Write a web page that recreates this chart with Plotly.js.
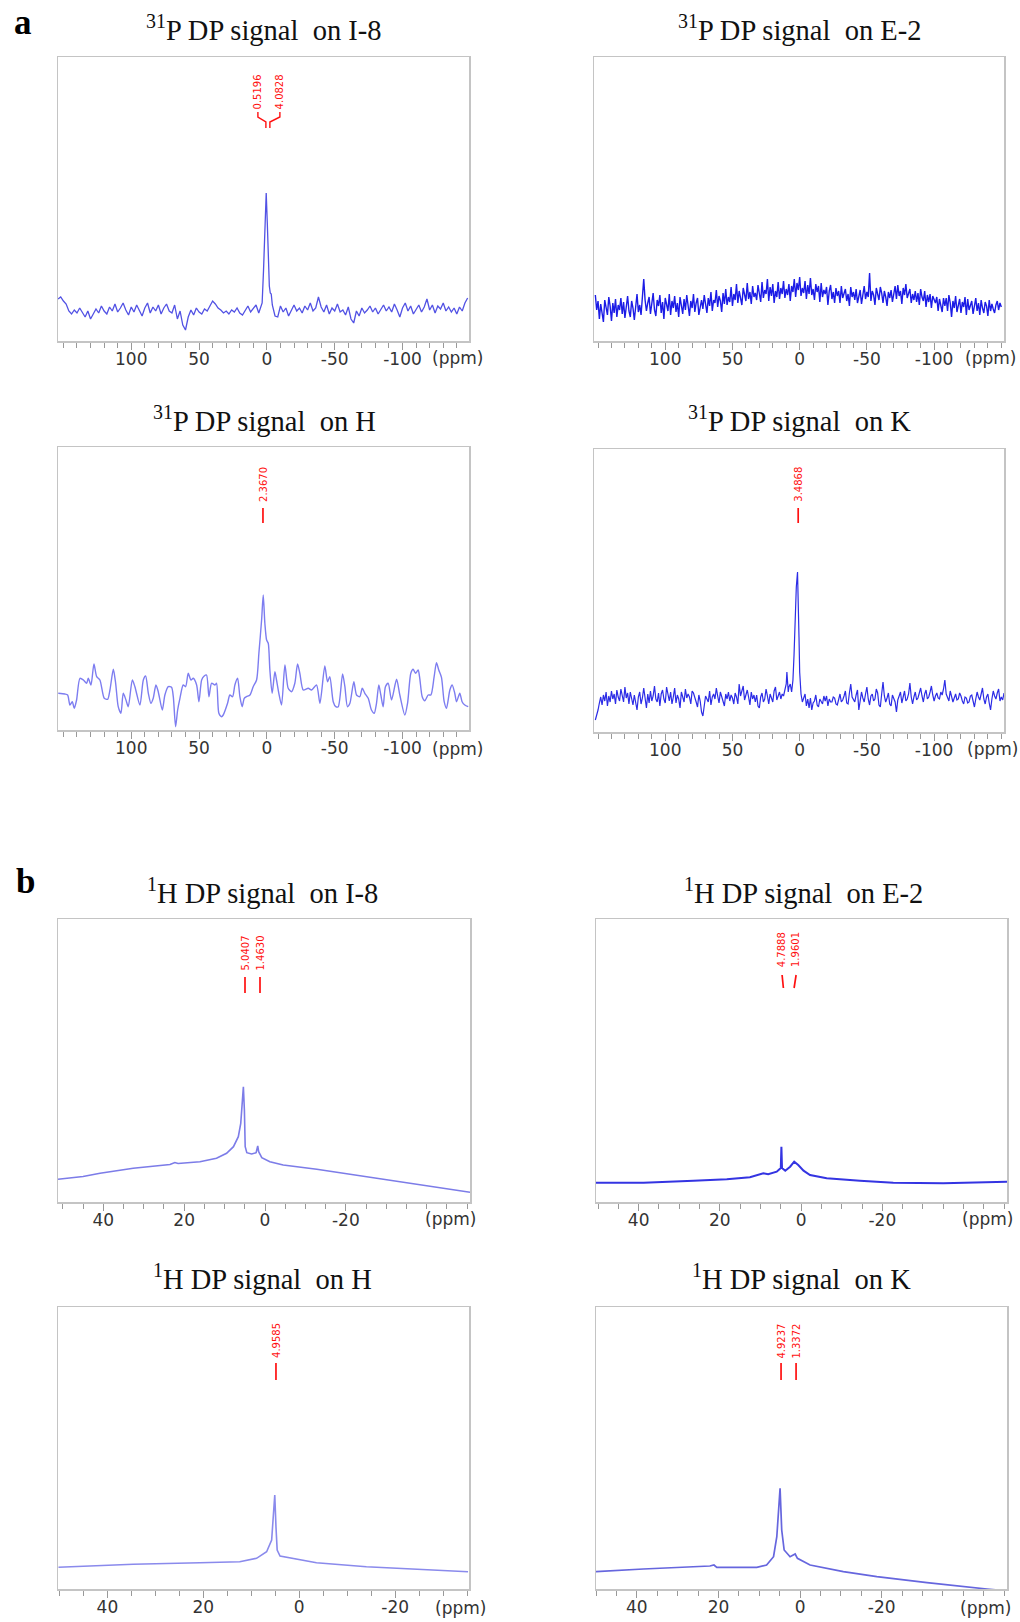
<!DOCTYPE html>
<html><head><meta charset="utf-8">
<script src="https://cdn.plot.ly/plotly-3.0.1.min.js"></script>
<style>html,body{margin:0;padding:0;background:#fff}#chart{width:1020px;height:1622px}</style>
</head><body><div id="chart"></div>
<script>
// ---------------- DATA (ppm, intensity) ----------------
const panelTitles = [
  '<sup>31</sup>P DP signal\u00a0 on I-8', '<sup>31</sup>P DP signal\u00a0 on E-2',
  '<sup>31</sup>P DP signal\u00a0 on H',   '<sup>31</sup>P DP signal\u00a0 on K',
  '<sup>1</sup>H DP signal\u00a0 on I-8',  '<sup>1</sup>H DP signal\u00a0 on E-2',
  '<sup>1</sup>H DP signal\u00a0 on H',    '<sup>1</sup>H DP signal\u00a0 on K'];
const sectionLabels = ['a', 'b'];
const p31TickVals = [100, 50, 0, -50, -100];
const p31TickText = ['100', '50', '0', '-50', '-100'];
const h1TickVals = [40, 20, 0, -20];
const h1TickText = ['40', '20', '0', '-20'];
const unitLabel = '(ppm)';

// 31P I-8
const pI8_x = [154,152,150,148,146,144,142,140,138,136,134,132,130,128,126,124,122,120,118,116,114,112,110,108,106,104,102,100,98,96,94,92,90,88,86,84,82,80,78,76,74,72,70,68,66,64,62,60,58,56,54,52,50,48,46,44,42,40,38,36,34,32,30,28,26,24,22,20,18,16,14,12,10,8,6,
  5,4,3.5,2.5,1.5,0.5,-0.3,-1,-1.8,-2.5,-3.2,-4,-5,-6,
  -8,-10,-12,-14,-16,-18,-20,-22,-24,-26,-28,-30,-32,-34,-36,-38,-40,-42,-44,-46,-48,-50,-52,-54,-56,-58,-60,-62,-64,-66,-68,-70,-72,-74,-76,-78,-80,-82,-84,-86,-88,-90,-92,-94,-96,-98,-100,-102,-104,-106,-108,-110,-112,-114,-116,-118,-120,-122,-124,-126,-128,-130,-132,-134,-136,-138,-140,-142,-144,-146,-148];
const pI8_y = [42,44,40,37,30,27,31,28,33,29,24,30,22,27,32,28,35,30,27,34,30,37,29,33,38,31,26,34,29,36,31,25,33,38,28,34,30,36,27,33,37,30,28,36,22,30,16,11,24,31,26,33,29,27,32,30,35,40,37,33,31,28,30,27,31,29,33,28,26,31,35,29,33,36,28,
  33,36,38,70,110,148,118,80,55,48,47,36,30,25,
  24,35,29,33,25,31,36,30,33,28,35,31,38,30,33,44,34,29,36,27,33,30,37,29,31,26,34,22,18,30,25,33,28,31,35,29,33,27,32,36,30,34,29,37,31,24,33,38,30,35,27,32,36,29,34,42,31,36,28,35,32,38,30,34,29,33,27,34,30,38,43];

// 31P E-2 (1 ppm sampling)
const pE2_x = [152,151,150,149,148,147,146,145,144,143,142,141,140,139,138,137,136,135,134,133,
  132,131,130,129,128,127,126,125,124,123,122,121,120,119,118,117,116,115,114,113,
  112,111,110,109,108,107,106,105,104,103,102,101,100,99,98,97,96,95,94,93,
  92,91,90,89,88,87,86,85,84,83,82,81,80,79,78,77,76,75,74,73,
  72,71,70,69,68,67,66,65,64,63,62,61,60,59,58,57,56,55,54,53,
  52,51,50,49,48,47,46,45,44,43,42,41,40,39,38,37,36,35,34,33,
  32,31,30,29,28,27,26,25,24,23,22,21,20,19,18,17,16,15,14,13,
  12,11,10,9,8,7,6,5,4,3,2,1,0,-1,-2,-3,-4,-5,-6,-7,
  -8,-9,-10,-11,-12,-13,-14,-15,-16,-17,-18,-19,-20,-21,-22,-23,-24,-25,-26,-27,
  -28,-29,-30,-31,-32,-33,-34,-35,-36,-37,-38,-39,-40,-41,-42,-43,-44,-45,-46,-47,
  -48,-49,-50,-51,-52,-53,-54,-55,-56,-57,-58,-59,-60,-61,-62,-63,-64,-65,-66,-67,
  -68,-69,-70,-71,-72,-73,-74,-75,-76,-77,-78,-79,-80,-81,-82,-83,-84,-85,-86,-87,
  -88,-89,-90,-91,-92,-93,-94,-95,-96,-97,-98,-99,-100,-101,-102,-103,-104,-105,-106,-107,
  -108,-109,-110,-111,-112,-113,-114,-115,-116,-117,-118,-119,-120,-121,-122,-123,-124,-125,-126,-127,
  -128,-129,-130,-131,-132,-133,-134,-135,-136,-137,-138,-139,-140,-141,-142,-143,-144,-145,-146,-147,
  -148,-149,-150];
const pE2_y = [46,31,40,22,37,29,19,41,33,26,44,35,20,38,28,42,24,36,31,43,
  27,39,23,35,45,30,24,40,33,21,38,47,29,36,26,50,62,41,30,38,
  44,27,36,48,31,25,41,35,46,28,39,22,43,34,30,47,26,40,33,45,
  29,38,24,44,35,27,42,31,46,36,25,40,33,47,29,38,43,26,36,41,
  32,46,37,28,43,35,49,30,41,38,51,34,45,40,29,48,37,52,36,44,
  39,54,35,47,41,57,38,50,43,36,53,45,40,58,42,49,37,55,44,48,
  41,56,46,39,59,43,51,47,62,40,54,45,57,38,50,44,59,42,53,47,
  60,43,52,46,57,40,55,49,62,44,58,51,64,45,53,48,60,42,56,47,
  63,46,52,41,57,49,55,39,58,44,51,47,54,36,50,56,42,49,38,53,
  45,50,38,55,43,48,52,40,47,35,54,44,49,41,52,38,46,51,37,48,
  55,42,49,44,68,40,50,46,36,53,45,41,54,48,38,50,44,35,49,43,
  51,39,47,55,42,56,45,50,37,53,46,57,43,49,52,38,47,41,50,39,
  48,36,52,44,40,50,34,46,39,47,33,45,41,38,44,30,42,36,29,43,
  35,43,30,46,38,24,40,33,45,29,37,42,28,39,34,44,26,42,31,37,
  40,27,35,43,30,38,26,41,33,28,39,35,25,41,30,37,32,28,36,40,
  31,38,34];

// 31P H
const pH_x = [153.8,148.9,146.9,145.2,143.5,142.0,140.3,137.8,135.3,132.9,131.7,129.7,127.5,125.5,123.1,119.9,117.4,115.7,113.2,111.5,109.6,107.6,105.9,103.9,102.2,99.2,97.3,93.6,91.1,89.4,87.4,85.5,83.8,81.8,80.1,77.1,75.2,72.7,70.3,69.0,67.3,65.8,64.1,61.7,59.9,58.0,56.0,54.3,51.8,50.1,48.1,46.2,44.5,42.7,40.8,38.3,37.1,35.4,33.4,32.2,29.0,27.3,25.3,23.6,21.6,19.9,18.2,16.7,15.0,12.5,10.1,7.6,5.9,3.9,2.7,1.5,0.2,-1.0,-2.2,-3.9,-5.9,-7.1,-8.8,-10.8,-13.3,-15.7,-18.2,-20.6,-22.6,-24.3,-26.8,-30.5,-32.9,-36.6,-39.1,-42.7,-44.7,-46.4,-48.9,-50.8,-52.6,-55.8,-57.5,-59.4,-61.2,-64.1,-66.1,-68.5,-70.3,-72.2,-74.7,-77.1,-79.1,-80.8,-82.5,-84.0,-85.7,-87.4,-89.4,-91.9,-95.6,-98.0,-101.7,-103.7,-106.1,-107.8,-109.6,-111.5,-112.7,-114.5,-116.4,-118.9,-120.9,-123.3,-125.0,-126.7,-128.7,-130.7,-132.4,-134.9,-136.6,-138.5,-139.8,-142.2,-143.9,-145.9,-148.4];
const pH_y = [36.7,36,35,25,28.3,21.7,30,51.7,50,46.7,51.7,45,66,53.3,50,31.7,30.7,40,60.7,46.7,23.3,16.7,36.7,30,23.3,50,43.3,25,50,54,36.7,26.7,31.7,45,38.3,20,35,43.3,42.7,33.3,3.3,20,31.7,45,43.3,56.7,50,51.7,45,28.3,50,54,55,33.3,46.7,45,46.7,16.7,13.3,15,26.7,35,33.3,45,51.7,33.3,23.3,31.7,33.3,35,43.3,50,76.7,110,135,106.7,90,86.7,60,36.7,58.3,50,36.7,25,65,41.7,38.3,46.7,66,56.7,40,41.7,40,45,26.7,64,48.3,53.3,28.3,23.3,23.3,56,43.3,23.3,26.7,48.3,35,33.3,41.7,36.7,31.7,20,16.7,26.7,45,35,23.3,43.3,46.7,30,50.7,35,15,26.7,56.7,60.7,56.7,60,51.7,33.3,29.3,35,35,53.3,67.3,60,52.7,28.3,21.7,40,45,36.7,28.3,36.7,28.3,25,23.3];

// 31P K (1 ppm sampling outside the peak)
const pK_x = [152,151,150,149,148,147,146,145,144,143,142,141,140,139,138,137,136,135,134,133,
  132,131,130,129,128,127,126,125,124,123,122,121,120,119,118,117,116,115,114,113,
  112,111,110,109,108,107,106,105,104,103,102,101,100,99,98,97,96,95,94,93,
  92,91,90,89,88,87,86,85,84,83,82,81,80,79,78,77,76,75,74,73,
  72,71,70,69,68,67,66,65,64,63,62,61,60,59,58,57,56,55,54,53,
  52,51,50,49,48,47,46,45,44,43,42,41,40,39,38,37,36,35,34,33,
  32,31,30,29,28,27,26,25,24,23,22,21,20,19,18,17,16,15,14,13,
  12,
  11,10,9.5,9,8.5,8,7,6,5,4.2,3.5,2.5,1.6,1,0.5,0,-0.5,-1,-2,-3,
  -4,-5,-6,-7,-8,-9,-10,-11,-12,-13,-14,-15,-16,-17,-18,-19,-20,-21,-22,-23,
  -24,-25,-26,-27,-28,-29,-30,-31,-32,-33,-34,-35,-36,-37,-38,-39,-40,-41,-42,-43,
  -44,-45,-46,-47,-48,-49,-50,-51,-52,-53,-54,-55,-56,-57,-58,-59,-60,-61,-62,-63,
  -64,-65,-66,-67,-68,-69,-70,-71,-72,-73,-74,-75,-76,-77,-78,-79,-80,-81,-82,-83,
  -84,-85,-86,-87,-88,-89,-90,-91,-92,-93,-94,-95,-96,-97,-98,-99,-100,-101,-102,-103,
  -104,-105,-106,-107,-108,-109,-110,-111,-112,-113,-114,-115,-116,-117,-118,-119,-120,-121,-122,-123,
  -124,-125,-126,-127,-128,-129,-130,-131,-132,-133,-134,-135,-136,-137,-138,-139,-140,-141,-142,-143,
  -144,-145,-146,-147,-148,-149,-150,-151,-152];
const pK_y = [12,16,22,29,35,27,37,31,40,26,36,30,41,33,38,28,42,35,31,43,
  36,30,45,34,39,28,40,33,27,37,30,22,35,40,28,34,44,31,24,38,
  29,41,31,36,46,33,30,39,26,38,42,33,29,45,36,31,40,28,35,44,
  29,37,33,24,40,36,30,43,34,38,35,28,41,39,33,30,25,37,31,20,
  16,27,36,33,30,41,27,35,38,33,44,36,29,40,35,31,26,38,33,40,
  31,37,34,28,39,35,28,48,36,41,46,32,38,42,35,27,40,33,37,30,
  37,26,24,35,39,30,33,43,36,28,38,34,30,41,45,32,36,40,33,38,
  36,
  42,48,60,44,40,45,48,40,52,77,110,145,160,135,95,60,42,38,30,35,
  38,26,33,24,34,22,29,31,37,27,25,33,30,28,36,31,36,26,33,30,
  30,35,34,28,27,33,38,30,32,36,41,29,28,39,48,35,33,30,37,42,
  22,31,40,34,30,38,45,33,27,36,38,31,33,43,39,27,25,38,50,36,
  30,34,39,28,26,37,34,30,20,32,36,40,29,35,41,31,33,38,49,35,
  28,35,40,32,34,39,44,36,30,38,42,33,35,40,46,37,31,36,39,34,
  33,40,37,43,52,38,35,31,41,36,30,34,38,32,33,39,36,31,28,35,
  34,29,30,36,37,31,25,33,40,35,32,38,44,33,28,35,38,29,22,33,
  41,36,33,39,43,31,35,32,39];

// 1H I-8
const hI8_x = [51.2,45,40.8,32.6,23.5,22.3,21.5,16.1,12,9.5,7.8,6.6,6.0,5.6,5.35,5.1,4.9,4.5,3.3,2.2,1.8,1.57,0.8,-1.2,-4.5,-12.8,-25.2,-37.6,-50.7];
const hI8_y = [22.7,25.5,28.7,33.7,37.5,39.5,38.5,40.3,43.7,48.7,55.3,65.3,78.7,102,115.3,92,55.3,49.3,48,49.3,56,50.3,44.3,40.3,37,32.7,25.3,18,9.7];

// 1H E-2
const hE2_x = [50.5,38.8,26.5,18.3,12.6,10.1,9.3,8.1,6.0,5.0,4.85,4.7,3.9,2.7,1.7,0.7,-0.6,-2.2,-6.3,-14.5,-22.7,-35.0,-43.3,-50.7];
const hE2_y = [19.3,19.3,21.3,22.7,24.7,28,28.7,27.7,30.3,34,55.3,34,31.3,35.3,40.3,37,31.3,27,23.7,21.3,19.3,18.7,19.3,20.3];

// 1H H
const hH_x = [50.2,34.6,20.7,12.4,8.9,6.8,5.75,5.4,5.1,4.85,4.6,4.0,1.25,-3.6,-14.0,-24.5,-35.2];
const hH_y = [21.7,24.7,26.3,27.3,30.7,37.3,49,72.3,94,62.3,39,33,30.7,26.3,22.3,19.7,17.3];

// 1H K
const hK_x = [50.0,38.4,22.1,21.1,20.4,10.6,8.2,6.5,5.7,5.2,4.9,4.5,3.9,2.45,1.2,0.65,-2.45,-10.6,-18.8,-31.1,-40.9,-45.8,-50.7];
const hK_y = [17.3,20,23,24,21.7,21.7,24,32.3,52.3,79,100.7,59,39,32.3,35,30.7,24,17.3,12.3,6.3,1.7,0,-2];

// peak pick labels (text)
const peakTexts = [['0.5196','4.0828'],[],['2.3670'],['3.4868'],['5.0407','1.4630'],['4.7888','1.9601'],['4.9585'],['4.9237','1.3372']];

// ---------------- LAYOUT CONFIG ----------------
const W = 1020, H = 1622;
const px = x => x / W, py = y => 1 - y / H;
const frames = [[58,57,469,341],[594,57,1004,341],[58,447,469,730],[594,449,1004,732],
                [58,919,470,1202],[596,919,1007,1202],[58,1307,469,1589],[596,1307,1007,1589]];
const xRanges = [[154,-149],[153,-152],[154,-149],[153,-152],[51.2,-50.7],[50.5,-50.7],[50.3,-35.4],[50,-50.7]];
const colors = ['#5252e4','#1c1ce6','#7d7df0','#2c2ce6','#7c7ce8','#3434e2','#8a8aec','#6666de'];
const widths = [1.3,1.4,1.4,1.2,1.6,2.0,1.6,1.7];
const shapes = ['linear','linear','spline','linear','linear','linear','linear','linear'];
const series = [[pI8_x,pI8_y],[pE2_x,pE2_y],[pH_x,pH_y],[pK_x,pK_y],[hI8_x,hI8_y],[hE2_x,hE2_y],[hH_x,hH_y],[hK_x,hK_y]];
const titlePos = [[264,28.5],[799,28.5],[264,419],[799,419],[262.5,891],[803,891],[262,1276.5],[801.7,1276.5]];
const unitPos = [[457,358],[990,358],[457,749],[992,749],[450,1219],[987,1219],[460,1608],[985,1608]];
const sectionPos = [[23,22],[25,881]];
const peakTextPos = [[[6.6,249.5],[-9.6,249.5]],[],[[2.9,246]],[[1.1,247.5]],[[4.95,248.5],[1.24,248.5]],[[4.9,252],[1.5,252]],[[4.85,249]],[[4.66,247.5],[0.98,247.5]]];
const peakLines = [[],[],[[2.9,222,2.9,207]],[[1.1,224,1.1,209]],[[4.95,225,4.95,209],[1.24,225,1.24,209]],
                   [[4.68,227,4.36,214],[1.23,227,1.72,214]],[[4.85,226,4.85,209]],[[4.66,226,4.66,209],[0.98,226,0.98,209]]];

const traces = [];
const layout = {width: W, height: H, margin: {l:0, r:0, t:0, b:0}, paper_bgcolor: '#fff', plot_bgcolor: '#fff',
  showlegend: false, annotations: [], shapes: [], hovermode: false};
const tickFont = {family: 'DejaVu Sans, Verdana, sans-serif', size: 17, color: '#333'};

for (let i = 0; i < 8; i++) {
  const s = i === 0 ? '' : String(i + 1);
  const f = frames[i];
  const is31 = i < 4;
  traces.push({type: 'scatter', mode: 'lines', x: series[i][0], y: series[i][1], xaxis: 'x' + s, yaxis: 'y' + s,
    line: {color: colors[i], width: widths[i], shape: shapes[i], smoothing: 0.7}, hoverinfo: 'skip'});
  layout['xaxis' + s] = {domain: [px(f[0]), px(f[2])], range: xRanges[i], anchor: 'y' + s,
    showline: true, mirror: true, linecolor: '#c4c4c4', linewidth: 1.5, showgrid: false, zeroline: false,
    ticks: 'outside', ticklen: 7, tickwidth: 1, tickcolor: '#999', ticklabelstandoff: -5,
    tickvals: is31 ? p31TickVals : h1TickVals, ticktext: is31 ? p31TickText : h1TickText,
    tickfont: tickFont,
    minor: {dtick: is31 ? 10 : 5, ticks: 'outside', ticklen: 5, tickwidth: 1, tickcolor: '#999', showgrid: false},
    fixedrange: true};
  layout['yaxis' + s] = {domain: [py(f[3]), py(f[1])], range: [0, f[3] - f[1]], anchor: 'x' + s,
    showline: true, mirror: true, linecolor: '#c4c4c4', linewidth: 1.5, showgrid: false, zeroline: false,
    showticklabels: false, ticks: '', fixedrange: true};
  layout.annotations.push({xref: 'paper', yref: 'paper', x: px(titlePos[i][0]), y: py(titlePos[i][1]),
    xanchor: 'center', yanchor: 'middle', showarrow: false, text: panelTitles[i],
    font: {family: 'Liberation Serif, Times New Roman, serif', size: 28.5, color: '#111'}});
  layout.annotations.push({xref: 'paper', yref: 'paper', x: px(unitPos[i][0]), y: py(unitPos[i][1]),
    xanchor: 'center', yanchor: 'middle', showarrow: false, text: unitLabel, font: tickFont});
  peakTexts[i].forEach((t, k) => {
    layout.annotations.push({xref: 'x' + s, yref: 'y' + s, x: peakTextPos[i][k][0], y: peakTextPos[i][k][1],
      xanchor: 'center', yanchor: 'middle', showarrow: false, text: t, textangle: -90,
      font: {family: 'DejaVu Sans, sans-serif', size: 10, color: '#ff1010'}});
  });
  peakLines[i].forEach(l => {
    layout.shapes.push({type: 'line', xref: 'x' + s, yref: 'y' + s, x0: l[0], y0: l[1], x1: l[2], y1: l[3],
      line: {color: '#ff1010', width: 1.7}});
  });
}
// brace connector for the I-8 31P pair
layout.shapes.push({type: 'path', xref: 'x', yref: 'y', path: 'M 6.63,229 L 6.63,224 L 0.74,219 L 0.74,213', line: {color: '#ff1010', width: 1.4}});
layout.shapes.push({type: 'path', xref: 'x', yref: 'y', path: 'M -9.58,229 L -9.58,224 L -2.2,219 L -2.2,213', line: {color: '#ff1010', width: 1.4}});

sectionLabels.forEach((t, k) => {
  layout.annotations.push({xref: 'paper', yref: 'paper', x: px(sectionPos[k][0]), y: py(sectionPos[k][1]),
    xanchor: 'center', yanchor: 'middle', showarrow: false, text: '<b>' + t + '</b>',
    font: {family: 'Liberation Serif, Times New Roman, serif', size: 35, color: '#000'}});
});

Plotly.newPlot('chart', traces, layout, {displayModeBar: false, staticPlot: true});
</script></body></html>
